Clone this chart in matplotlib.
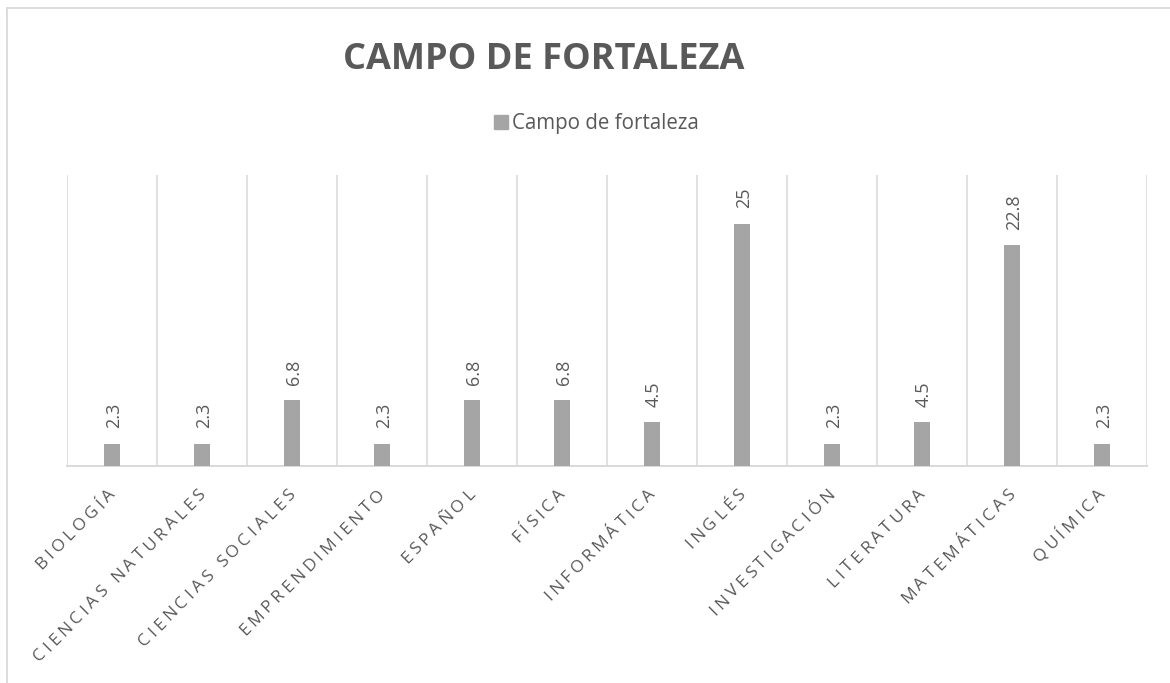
import math

import matplotlib
matplotlib.use("Agg")
import matplotlib.pyplot as plt
import numpy as np
from matplotlib.font_manager import FontProperties, findfont
from matplotlib.ft2font import FT2Font
from matplotlib.lines import Line2D

# ---------- data ----------
categorias = ["BIOLOGÍA", "CIENCIAS NATURALES", "CIENCIAS SOCIALES", "EMPRENDIMIENTO",
              "ESPAÑOL", "FÍSICA", "INFORMÁTICA", "INGLÉS", "INVESTIGACIÓN",
              "LITERATURA", "MATEMÁTICAS", "QUÍMICA"]
valores = [2.3, 2.3, 6.8, 2.3, 6.8, 6.8, 4.5, 25, 2.3, 4.5, 22.8, 2.3]
etiquetas = ["2.3", "2.3", "6.8", "2.3", "6.8", "6.8", "4.5", "25", "2.3", "4.5", "22.8", "2.3"]
serie = "Campo de fortaleza"
titulo = "CAMPO DE FORTALEZA"

plt.rcParams["font.family"] = ["Open Sans", "DejaVu Sans"]

W, H = 1170, 683
DPI = 100
GRIS_BARRA = "#A5A5A5"
GRIS_TEXTO = "#595959"
GRIS_LINEA = "#D9D9D9"

fig = plt.figure(figsize=(W / DPI, H / DPI), dpi=DPI)
ax = fig.add_axes([67 / W, 1 - 466 / H, 1080 / W, 291 / H])

x = np.arange(len(categorias))
ax.bar(x, valores, width=0.18, color=GRIS_BARRA, zorder=3)
ax.set_xlim(-0.5, len(categorias) - 0.5)
ax.set_ylim(0, 30)

# category separators
for b in np.arange(-0.5, len(categorias)):
    ax.axvline(b, color=GRIS_LINEA, lw=1.1, zorder=1)

for s in ["top", "left", "right"]:
    ax.spines[s].set_visible(False)
ax.spines["bottom"].set_color(GRIS_LINEA)
ax.spines["bottom"].set_linewidth(1.4)
ax.set_xticks([])
ax.set_yticks([])

# data labels
for xi, v, lbl in zip(x, valores, etiquetas):
    ax.annotate(lbl, (xi, v), xytext=(1.5, 11), textcoords="offset points",
                rotation=90, ha="center", va="bottom", fontsize=13, color=GRIS_TEXTO)

# title and legend
fig.text(544 / W, 1 - 69 / H, titulo, ha="center", va="baseline",
         fontsize=26, fontweight="bold", color=GRIS_TEXTO)
handle = plt.Rectangle((0, 0), 1, 1, color=GRIS_BARRA)
fig.legend([handle], [serie], loc="center", bbox_to_anchor=(596 / W, 1 - 124 / H),
           frameon=False, fontsize=14.8, labelcolor=GRIS_TEXTO,
           handlelength=0.68, handleheight=0.68, handletextpad=0.2)

# ---------- rotated, letter-spaced category labels ----------
tick_size = 12.5
espacio = 3.6  # extra px between letters
prop = FontProperties(family="Open Sans", size=tick_size)
ft = FT2Font(findfont(prop))
ft.set_size(tick_size, DPI)


def avance(c):
    g = ft.load_char(ord(c))
    return g.linearHoriAdvance / 65536


ang = math.radians(45)
d = np.array([math.cos(ang), math.sin(ang)])

for xi, cat in zip(x, categorias):
    px = ax.transData.transform((xi, 0))[0]
    fin = np.array([px + 4, H - 495])  # baseline end of the label
    anchos = [avance(c) for c in cat]
    L = sum(anchos) + espacio * (len(cat) - 1)
    pos = fin - L * d
    for c, w in zip(cat, anchos):
        fig.text(pos[0] / W, pos[1] / H, c, rotation=45, rotation_mode="anchor",
                 ha="left", va="baseline", fontsize=tick_size, color=GRIS_TEXTO)
        pos = pos + (w + espacio) * d

# chart area border (left and top edges visible)
fig.add_artist(Line2D([7 / W, 7 / W], [0, 1 - 8 / H], color=GRIS_LINEA, lw=1.3))
fig.add_artist(Line2D([7 / W, 1], [1 - 8 / H, 1 - 8 / H], color=GRIS_LINEA, lw=1.3))

fig.savefig("out.png", dpi=DPI)
